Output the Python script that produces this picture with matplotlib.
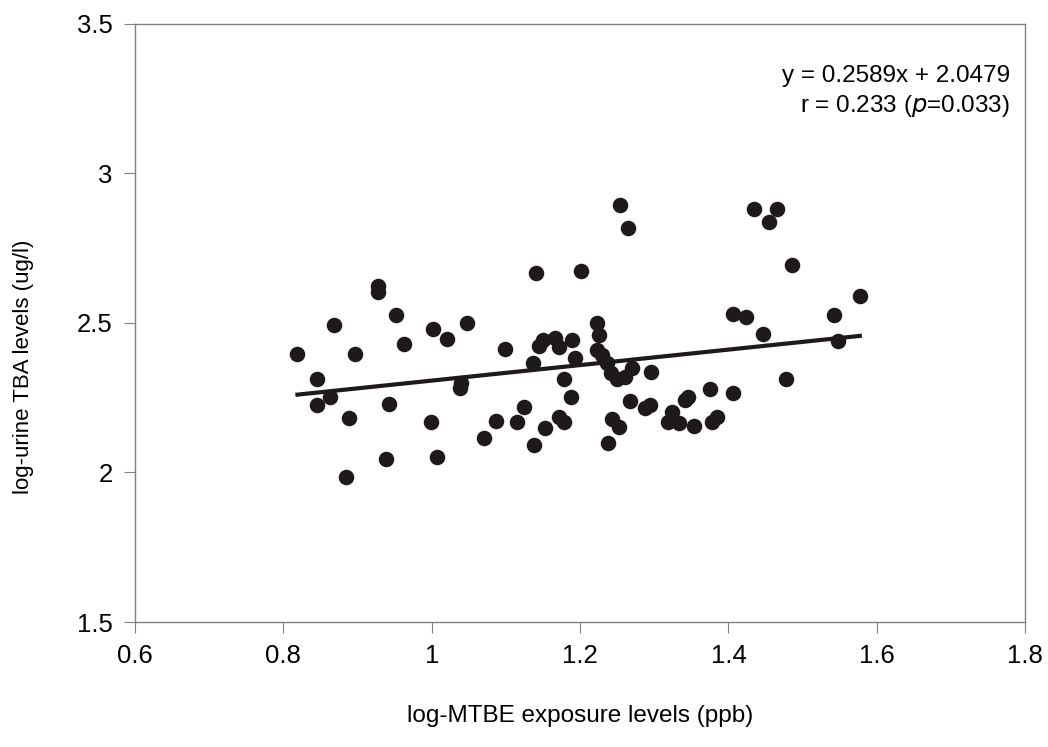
import numpy as np
import matplotlib.pyplot as plt

plt.rcParams['font.family'] = ['Liberation Sans', 'DejaVu Sans']

# log-MTBE exposure (x) vs log-urine TBA (y)
mtbe = [0.819, 0.845, 0.845, 0.863, 0.868, 0.897, 0.889, 0.884, 0.928, 0.928,
        0.952, 0.963, 0.942, 0.939, 1.002, 1.020, 1.047, 1.040, 1.038, 0.999,
        1.007, 1.070, 1.086, 1.115, 1.125, 1.138, 1.153, 1.099, 1.140, 1.136,
        1.144, 1.150, 1.166, 1.172, 1.178, 1.171, 1.178, 1.188, 1.189,
        1.254, 1.264, 1.201, 1.435, 1.466, 1.455, 1.485, 1.577, 1.406, 1.424,
        1.447, 1.542, 1.547, 1.477, 1.223, 1.225, 1.193, 1.223, 1.229, 1.236,
        1.241, 1.250, 1.261, 1.270, 1.295, 1.267, 1.288, 1.294, 1.243, 1.252,
        1.238, 1.324, 1.319, 1.333, 1.342, 1.346, 1.354, 1.375, 1.378, 1.384,
        1.406]
tba = [2.394, 2.311, 2.225, 2.253, 2.492, 2.394, 2.182, 1.985, 2.623, 2.602,
       2.526, 2.428, 2.227, 2.044, 2.479, 2.447, 2.499, 2.300, 2.283, 2.167,
       2.050, 2.116, 2.172, 2.167, 2.219, 2.090, 2.147, 2.414, 2.667, 2.364,
       2.422, 2.442, 2.450, 2.418, 2.311, 2.186, 2.169, 2.253, 2.442,
       2.893, 2.816, 2.674, 2.879, 2.879, 2.836, 2.693, 2.590, 2.531, 2.518,
       2.461, 2.526, 2.440, 2.311, 2.500, 2.459, 2.383, 2.409, 2.392, 2.364,
       2.331, 2.312, 2.320, 2.348, 2.336, 2.239, 2.214, 2.225, 2.178, 2.152,
       2.097, 2.203, 2.169, 2.166, 2.242, 2.253, 2.155, 2.278, 2.170, 2.185,
       2.266]

slope, intercept = 0.2589, 2.0479
fit_x = [min(mtbe), max(mtbe)]

fig = plt.figure(figsize=(10.48, 7.47), dpi=100)
ax = fig.add_axes([0.1288, 0.1673, 0.8495, 0.8012])

ax.scatter(mtbe, tba, s=125, color='#1e1a1a', zorder=3, linewidths=0)
ax.plot(fit_x, [slope * v + intercept for v in fit_x], color='#1e1a1a', lw=3, zorder=2)

ax.set_xlim(0.6, 1.8)
ax.set_ylim(1.5, 3.5)
ax.set_xticks(np.arange(0.6, 1.81, 0.2))
ax.set_xticklabels(['0.6', '0.8', '1', '1.2', '1.4', '1.6', '1.8'])
ax.set_yticks([1.5, 2, 2.5, 3, 3.5])
ax.set_yticklabels(['1.5', '2', '2.5', '3', '3.5'])
for sp in ax.spines.values():
    sp.set_color('#808080')
    sp.set_linewidth(1)
ax.tick_params(direction='out', length=8, color='#808080', labelsize=18.5, pad=8)

ax.set_xlabel('log-MTBE exposure levels (ppb)', fontsize=17.5)
ax.xaxis.set_label_coords(0.5, -0.139)
ax.set_ylabel('log-urine TBA levels (ug/l)', fontsize=16)
ax.yaxis.set_label_coords(-0.113, 0.426)

ax.text(0.983, 0.913, 'y = 0.2589x + 2.0479', transform=ax.transAxes,
        ha='right', va='center', fontsize=17.5)
ax.text(0.983, 0.862, r'r = 0.233 ($\it{p}$=0.033)', transform=ax.transAxes,
        ha='right', va='center', fontsize=17.5)

fig.savefig('out.png', dpi=100)
